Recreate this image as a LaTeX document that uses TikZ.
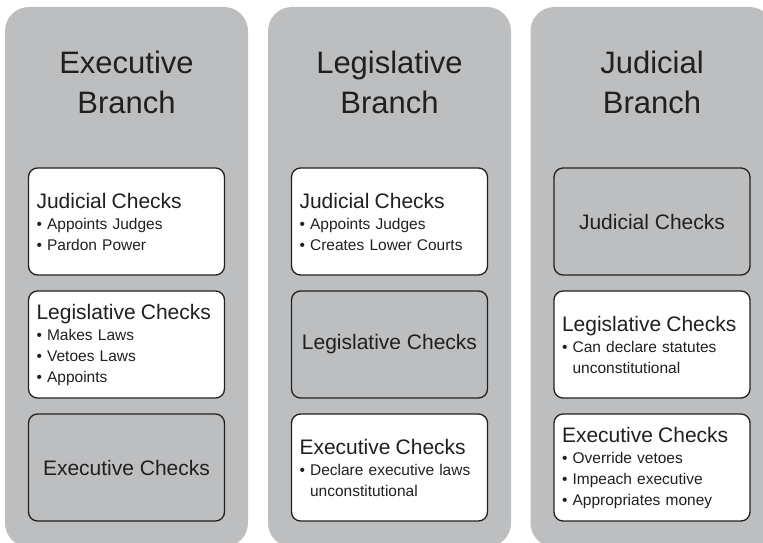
\documentclass[tikz,border=0pt]{standalone}
\usepackage{fontspec}
\setmainfont{Liberation Sans}
\usepackage{tikz}
\definecolor{panelgray}{HTML}{BCBEC0}
\definecolor{ink}{HTML}{231F20}
\newcommand{\bul}{\textbullet\ }
\newcommand{\hang}{\phantom{\textbullet\ }}
\newcommand{\boxtitle}[1]{{\fontsize{21}{21}\selectfont #1}}

\begin{document}
\begin{tikzpicture}[x=1pt,y=-1pt,
	branch/.style={fill=panelgray, rounded corners=24pt, minimum width=243pt, minimum height=540pt, inner sep=0pt},
	heading/.style={text=ink, align=center, font=\fontsize{31}{40}\selectfont},
	listbox/.style={draw=ink, line width=1.3pt, fill=white, rounded corners=9pt, minimum width=196pt, minimum height=107pt, inner sep=0pt, text width=180pt, align=left, text=ink, font=\fontsize{15.5}{21}\selectfont},
	emptybox/.style={draw=ink, line width=1.3pt, fill=panelgray, rounded corners=9pt, minimum width=196pt, minimum height=107pt, inner sep=0pt, align=center, text=ink, font=\fontsize{21}{21}\selectfont}]
	\useasboundingbox (0,0) rectangle (763,543);
	\clip (0,0) rectangle (763,543);

	% the three branches
	\node[branch] (exec) at (126.5,277) {};
	\node[branch] (legis) at (389.5,277) {};
	\node[branch] (judic) at (652,277) {};

	\node[heading] (exechead) at (exec.center |- 0,82) {Executive\\Branch};
	\node[heading] (legishead) at (legis.center |- 0,82) {Legislative\\Branch};
	\node[heading] (judichead) at (judic.center |- 0,82) {Judicial\\Branch};

	% executive branch
	\node[listbox] (execjud) at (exec.center |- 0,221.5) {\boxtitle{Judicial Checks}\\ \bul Appoints Judges\\ \bul Pardon Power};
	\node[listbox] (execleg) at (exec.center |- 0,344.5) {\boxtitle{Legislative Checks}\\ \bul Makes Laws\\ \bul Vetoes Laws\\ \bul Appoints};
	\node[emptybox] (execexe) at (exec.center |- 0,467.5) {Executive Checks};

	% legislative branch
	\node[listbox] (legisjud) at (legis.center |- 0,221.5) {\boxtitle{Judicial Checks}\\ \bul Appoints Judges\\ \bul Creates Lower Courts};
	\node[emptybox] (legisleg) at (legis.center |- 0,344.5) {Legislative Checks};
	\node[listbox] (legisexe) at (legis.center |- 0,467.5) {\boxtitle{Executive Checks}\\ \bul Declare executive laws\\ \hang unconstitutional};

	% judicial branch
	\node[emptybox] (judicjud) at (judic.center |- 0,221.5) {Judicial Checks};
	\node[listbox] (judicleg) at (judic.center |- 0,344.5) {\boxtitle{Legislative Checks}\\ \bul Can declare statutes\\ \hang unconstitutional};
	\node[listbox] (judicexe) at (judic.center |- 0,467.5) {\boxtitle{Executive Checks}\\ \bul Override vetoes\\ \bul Impeach executive\\ \bul Appropriates money};
\end{tikzpicture}
\end{document}
